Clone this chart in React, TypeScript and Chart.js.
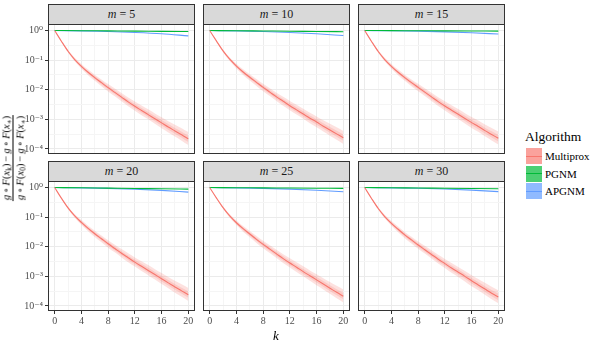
import React, { useEffect, useRef } from "react";
import { Chart, registerables } from "chart.js";

Chart.register(...registerables);

const FONT = "'Liberation Serif', 'DejaVu Serif', serif";

// ---------- data ----------
const K = [0, 1, 2, 3, 4, 5, 6, 7, 8, 9, 10, 11, 12, 13, 14, 15, 16, 17, 18, 19, 20];
const K_SPARSE = [0, 4, 8, 12, 16, 20];
const PANEL_M = [5, 10, 15, 20, 25, 30];

// Multiprox median, log10 of relative gap
const MULTIPROX_M5 = [0, -0.36, -0.70, -0.98, -1.21, -1.41, -1.59, -1.76, -1.93, -2.09, -2.25, -2.41, -2.56, -2.70, -2.84, -2.98, -3.12, -3.26, -3.39, -3.52, -3.66];
const MULTIPROX_M10 = [0, -0.35, -0.69, -0.97, -1.20, -1.40, -1.58, -1.75, -1.92, -2.08, -2.24, -2.39, -2.54, -2.68, -2.82, -2.96, -3.09, -3.23, -3.36, -3.49, -3.62];
const MULTIPROX_M15 = [0, -0.36, -0.70, -0.98, -1.21, -1.41, -1.59, -1.76, -1.92, -2.08, -2.24, -2.40, -2.55, -2.69, -2.83, -2.97, -3.11, -3.24, -3.38, -3.51, -3.64];
const MULTIPROX_M20 = [0, -0.36, -0.69, -0.96, -1.18, -1.38, -1.56, -1.73, -1.90, -2.06, -2.22, -2.37, -2.52, -2.66, -2.80, -2.94, -3.08, -3.22, -3.36, -3.49, -3.62];
const MULTIPROX_M25 = [0, -0.35, -0.68, -0.96, -1.19, -1.39, -1.57, -1.75, -1.92, -2.08, -2.24, -2.40, -2.55, -2.69, -2.84, -2.98, -3.12, -3.26, -3.40, -3.54, -3.67];
const MULTIPROX_M30 = [0, -0.36, -0.70, -0.98, -1.21, -1.41, -1.60, -1.77, -1.94, -2.10, -2.26, -2.42, -2.57, -2.72, -2.86, -3.00, -3.15, -3.29, -3.43, -3.57, -3.70];
const MULTIPROX_LOG10 = [MULTIPROX_M5, MULTIPROX_M10, MULTIPROX_M15, MULTIPROX_M20, MULTIPROX_M25, MULTIPROX_M30];

// Multiprox spread (decades above / below the median)
const BAND_OUTER_UP = [0, 0.02, 0.04, 0.06, 0.08, 0.09, 0.10, 0.11, 0.12, 0.13, 0.14, 0.15, 0.16, 0.17, 0.18, 0.18, 0.19, 0.20, 0.21, 0.22, 0.23];
const BAND_OUTER_DOWN = [0, 0.02, 0.04, 0.06, 0.08, 0.10, 0.11, 0.12, 0.13, 0.13, 0.14, 0.15, 0.15, 0.16, 0.16, 0.17, 0.18, 0.18, 0.19, 0.20, 0.21];
const BAND_INNER_UP = [0, 0.01, 0.02, 0.03, 0.04, 0.045, 0.05, 0.055, 0.06, 0.065, 0.07, 0.075, 0.08, 0.085, 0.09, 0.09, 0.095, 0.10, 0.10, 0.105, 0.11];
const BAND_INNER_DOWN = [0, 0.01, 0.02, 0.03, 0.04, 0.05, 0.055, 0.06, 0.065, 0.065, 0.07, 0.075, 0.075, 0.08, 0.08, 0.085, 0.09, 0.09, 0.095, 0.10, 0.105];

// PGNM, log10 at K_SPARSE
const PGNM_M5 = [0, -0.006, -0.013, -0.020, -0.028, -0.035];
const PGNM_M10 = [0, -0.007, -0.015, -0.023, -0.032, -0.040];
const PGNM_M15 = [0, -0.004, -0.008, -0.012, -0.016, -0.020];
const PGNM_M20 = [0, -0.010, -0.021, -0.032, -0.044, -0.055];
const PGNM_M25 = [0, -0.006, -0.012, -0.018, -0.024, -0.030];
const PGNM_M30 = [0, -0.008, -0.016, -0.024, -0.032, -0.040];
const PGNM_LOG10 = [PGNM_M5, PGNM_M10, PGNM_M15, PGNM_M20, PGNM_M25, PGNM_M30];

// APGNM, log10 at K_SPARSE
const APGNM_M5 = [0, -0.012, -0.032, -0.065, -0.110, -0.180];
const APGNM_M10 = [0, -0.012, -0.032, -0.065, -0.110, -0.170];
const APGNM_M15 = [0, -0.008, -0.022, -0.045, -0.078, -0.120];
const APGNM_M20 = [0, -0.012, -0.030, -0.058, -0.098, -0.155];
const APGNM_M25 = [0, -0.011, -0.028, -0.054, -0.092, -0.145];
const APGNM_M30 = [0, -0.011, -0.027, -0.052, -0.088, -0.140];
const APGNM_LOG10 = [APGNM_M5, APGNM_M10, APGNM_M15, APGNM_M20, APGNM_M25, APGNM_M30];

const X_MAJOR = [0, 4, 8, 12, 16, 20];
const X_MINOR = [2, 6, 10, 14, 18];
const Y_MAJOR_EXP = [0, -1, -2, -3, -4];
const Y_TICK_LABELS = ["10⁰", "10⁻¹", "10⁻²", "10⁻³", "10⁻⁴"];
const Y_MINOR_EXP = [-0.5, -1.5, -2.5, -3.5];

const LEGEND_LABELS = ["Multiprox", "PGNM", "APGNM"];
const SERIES_COLORS = ["#F8766D", "#00BA38", "#619CFF"];
const SERIES_KEY_FILL = ["rgba(248,118,109,0.68)", "rgba(0,186,56,0.7)", "rgba(97,156,255,0.7)"];

// ---------- layout ----------
const COL_LEFT = [48, 203, 358];
const STRIP_TOP = [4, 161];
const STRIP_H = 21;
const PLOT_TOP = [24, 181];
const PLOT_W = 147;
const PLOT_H = 130;
const P = 4;
const Y_MIN = Math.pow(10, -4.17);
const Y_MAX = Math.pow(10, 0.22);

const borderPlugin = {
  id: "panelBorder",
  afterDraw(chart: any) {
    const { ctx, chartArea: a } = chart;
    ctx.save();
    ctx.strokeStyle = "#333333";
    ctx.lineWidth = 1;
    ctx.strokeRect(
      Math.round(a.left) + 0.5,
      Math.round(a.top) + 0.5,
      Math.round(a.right - a.left) - 1,
      Math.round(a.bottom - a.top) - 1
    );
    ctx.restore();
  },
};

function isMajorExp(v: number) {
  const e = Math.log10(v);
  return Math.abs(e - Math.round(e)) < 1e-6;
}

function Panel({ idx }: { idx: number }) {
  const ref = useRef<HTMLCanvasElement>(null);
  const col = idx % 3;
  const row = Math.floor(idx / 3);
  const yW = col === 0 ? 30 : 0;
  const xH = row === 1 ? 18 : 0;
  const cw = yW + PLOT_W + 2 * P;
  const ch = PLOT_H + xH + 2 * P;
  const left = COL_LEFT[col] - yW - P;
  const top = PLOT_TOP[row] - P;

  useEffect(() => {
    const med = MULTIPROX_LOG10[idx];
    const pts = (xs: number[], logs: number[]) => xs.map((x, i) => ({ x, y: Math.pow(10, logs[i]) }));
    const band = (w: number[], s: number) => K.map((k, i) => ({ x: k, y: Math.pow(10, med[i] + s * w[i]) }));
    const fillC = "rgba(248,118,109,0.22)";
    const clear = "rgba(0,0,0,0)";
    const common = { pointRadius: 0, cubicInterpolationMode: "monotone" as const };
    const chart = new Chart(ref.current!, {
      type: "line",
      data: {
        datasets: [
          { ...common, data: band(BAND_OUTER_DOWN, -1), borderColor: clear, borderWidth: 1, fill: false },
          { ...common, data: band(BAND_OUTER_UP, 1), borderColor: clear, borderWidth: 1, fill: "-1", backgroundColor: fillC },
          { ...common, data: band(BAND_INNER_DOWN, -1), borderColor: clear, borderWidth: 1, fill: false },
          { ...common, data: band(BAND_INNER_UP, 1), borderColor: clear, borderWidth: 1, fill: "-1", backgroundColor: fillC },
          { ...common, label: "Multiprox", data: pts(K, med), borderColor: SERIES_COLORS[0], borderWidth: 1.1, fill: false },
          { ...common, label: "PGNM", data: pts(K_SPARSE, PGNM_LOG10[idx]), borderColor: SERIES_COLORS[1], borderWidth: 1.1, fill: false },
          { ...common, label: "APGNM", data: pts(K_SPARSE, APGNM_LOG10[idx]), borderColor: SERIES_COLORS[2], borderWidth: 1.1, fill: false },
        ],
      },
      options: {
        animation: false,
        responsive: false,
        maintainAspectRatio: false,
        devicePixelRatio: 1,
        layout: { padding: P },
        plugins: { legend: { display: false }, tooltip: { enabled: false } },
        scales: {
          x: {
            type: "linear",
            min: -1,
            max: 21,
            afterBuildTicks: (s: any) => {
              s.ticks = [...X_MAJOR, ...X_MINOR].sort((a, b) => a - b).map((v) => ({ value: v }));
            },
            afterFit: (s: any) => {
              s.height = xH;
              s.paddingLeft = 0;
              s.paddingRight = 0;
            },
            ticks: {
              display: row === 1,
              autoSkip: false,
              maxRotation: 0,
              padding: 1,
              color: "#4D4D4D",
              font: { family: FONT, size: 10 },
              callback: (v: any) => (X_MAJOR.includes(Number(v)) ? String(v) : ""),
            },
            grid: {
              color: (c: any) => (c.tick && X_MAJOR.includes(c.tick.value) ? "#EBEBEB" : "#F5F5F5"),
              lineWidth: 1,
              drawTicks: row === 1,
              tickLength: 3,
              tickWidth: 1,
              tickColor: (c: any) => (c.tick && X_MAJOR.includes(c.tick.value) ? "#333333" : clear),
            },
            border: { display: false },
          },
          y: {
            type: "logarithmic",
            min: Y_MIN,
            max: Y_MAX,
            afterBuildTicks: (s: any) => {
              s.ticks = [...Y_MAJOR_EXP, ...Y_MINOR_EXP]
                .sort((a, b) => a - b)
                .map((e) => ({ value: Math.pow(10, e) }));
            },
            afterFit: (s: any) => {
              s.width = yW;
              s.paddingTop = 0;
              s.paddingBottom = 0;
            },
            ticks: {
              display: col === 0,
              autoSkip: false,
              padding: 2,
              color: "#4D4D4D",
              font: { family: FONT, size: 10 },
              callback: (v: any) => {
                const e = Math.round(Math.log10(Number(v)) * 2) / 2;
                const i = Y_MAJOR_EXP.indexOf(e);
                return i >= 0 ? Y_TICK_LABELS[i] : "";
              },
            },
            grid: {
              color: (c: any) => (c.tick && isMajorExp(c.tick.value) ? "#EBEBEB" : "#F5F5F5"),
              lineWidth: 1,
              drawTicks: col === 0,
              tickLength: 3,
              tickWidth: 1,
              tickColor: (c: any) => (c.tick && isMajorExp(c.tick.value) ? "#333333" : clear),
            },
            border: { display: false },
          },
        },
      } as any,
      plugins: [borderPlugin],
    });
    return () => chart.destroy();
  }, [idx]);

  return (
    <>
      <div
        style={{
          position: "absolute",
          left: COL_LEFT[col],
          top: STRIP_TOP[row],
          width: PLOT_W,
          height: STRIP_H,
          boxSizing: "border-box",
          background: "#D9D9D9",
          border: "1px solid #333333",
          display: "flex",
          alignItems: "center",
          justifyContent: "center",
          fontSize: 12,
          color: "#1A1A1A",
          whiteSpace: "pre",
        }}
      >
        <i>m</i>
        {" = " + PANEL_M[idx]}
      </div>
      <canvas
        ref={ref}
        width={cw}
        height={ch}
        style={{ position: "absolute", left, top, width: cw, height: ch }}
      />
    </>
  );
}

const subStyle: React.CSSProperties = { fontSize: "70%", verticalAlign: "-0.25em", lineHeight: 0 };

function GapExpr({ sub }: { sub: string }) {
  return (
    <span>
      <i>g</i>{"\u2009∘\u2009"}<i>F</i>(<i>x</i>
      <sub style={subStyle}>{sub}</sub>){"\u2009−\u2009"}<i>g</i>{"\u2009∘\u2009"}<i>F</i>(<i>x</i>
      <sub style={subStyle}>∗</sub>)
    </span>
  );
}

export default function App() {
  return (
    <div
      style={{
        position: "absolute",
        left: 0,
        top: 0,
        width: 598,
        height: 342,
        background: "#FFFFFF",
        fontFamily: FONT,
        overflow: "hidden",
      }}
    >
      {PANEL_M.map((m, i) => (
        <Panel key={m} idx={i} />
      ))}

      {/* y-axis title */}
      <div
        style={{
          position: "absolute",
          left: 13,
          top: 158,
          transform: "translate(-50%, -50%) rotate(-90deg)",
          whiteSpace: "nowrap",
          fontSize: 10.5,
          lineHeight: "11px",
          textAlign: "center",
          color: "#000",
        }}
      >
        <div style={{ padding: "0 1px 1px" }}>
          <GapExpr sub="k" />
        </div>
        <div style={{ borderTop: "0.8px solid #000", paddingTop: 1 }}>
          <GapExpr sub="0" />
        </div>
      </div>

      {/* x-axis title */}
      <div
        style={{
          position: "absolute",
          left: 276,
          top: 336,
          transform: "translate(-50%, -50%)",
          fontSize: 13,
          fontStyle: "italic",
          color: "#000",
        }}
      >
        k
      </div>

      {/* legend */}
      <div style={{ position: "absolute", left: 525, top: 129, fontSize: 13.5, color: "#000" }}>Algorithm</div>
      {LEGEND_LABELS.map((lab, i) => (
        <React.Fragment key={lab}>
          <div
            style={{
              position: "absolute",
              left: 526,
              top: 148 + i * 17.5,
              width: 16,
              height: 16,
              background: SERIES_KEY_FILL[i],
            }}
          >
            <div
              style={{
                position: "absolute",
                left: 0,
                top: 7.5,
                width: 16,
                height: 1,
                background: SERIES_COLORS[i],
              }}
            />
          </div>
          <div
            style={{
              position: "absolute",
              left: 545,
              top: 148 + i * 17.5,
              height: 16,
              lineHeight: "16px",
              fontSize: 11,
              color: "#000",
            }}
          >
            {lab}
          </div>
        </React.Fragment>
      ))}
    </div>
  );
}
